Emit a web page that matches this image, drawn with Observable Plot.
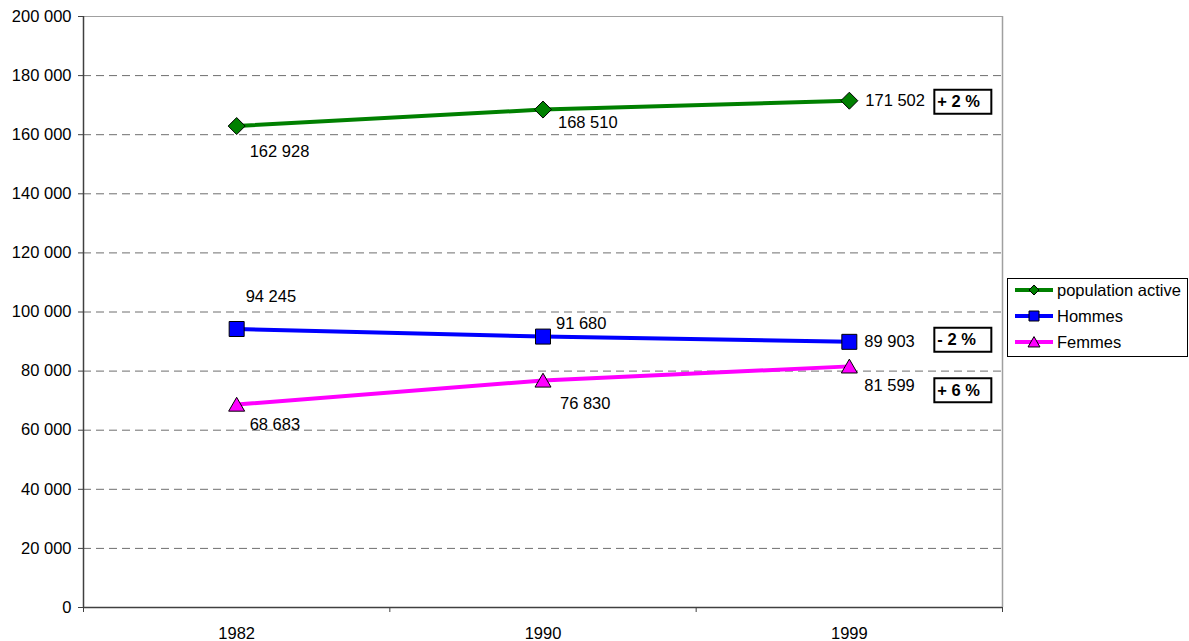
<!DOCTYPE html>
<html><head><meta charset="utf-8">
<script src="https://cdn.jsdelivr.net/npm/d3@7"></script>
<script src="https://cdn.jsdelivr.net/npm/@observablehq/plot@0.6"></script>
<style>body{margin:0;background:#fff;}</style>
</head><body><div id="chart"></div>
<script>
// ---- data ----
const years = ["1982", "1990", "1999"];
const seriesNames = ["population active", "Hommes", "Femmes"];
const populationActive = [162928, 168510, 171502];
const hommes = [94245, 91680, 89903];
const femmes = [68683, 76830, 81599];
const changeLabels = ["+ 2 %", "- 2 %", "+ 6 %"];
const yTicks = [0, 20000, 40000, 60000, 80000, 100000, 120000, 140000, 160000, 180000, 200000];

// ---- styling / layout config ----
const FONT = "'Liberation Sans', Arial, Helvetica, sans-serif";
const FS = 16.5;
const colors = ["#008000", "#0000ff", "#ff00ff"];
const symbols = ["diamond2", "square", "triangle"];
const radii = [7.66, 8.46, 5.94];
const symDy = [0, 0, 2];
// value-label offsets [dx, dy] per series / year
const labelOffsets = [
  [[13, 26], [15, 13], [16, 0]],
  [[9, -32], [13, -13], [15, 0]],
  [[13, 20], [17, 23], [15, 19]]
];
const changeDy = [1, -2, 24];

const fmt = v => d3.format(",")(v).replace(/,/g, " ");
const valuesBySeries = [populationActive, hommes, femmes];
const rows = seriesNames.flatMap((s, si) =>
  years.map((y, i) => ({series: s, si, i, year: y, xi: i + 0.5, value: valuesBySeries[si][i]})));
const gridTicks = yTicks.filter(t => t > 0 && t < 200000);

const boxSymbol = {draw(ctx) { ctx.rect(-28.5, -12, 57, 24); }};

const marks = [
  Plot.ruleY(gridTicks, {stroke: "#6e6e6e", strokeWidth: 1, strokeDasharray: "8,5"}),
  Plot.ruleY([200000], {stroke: "#a0a0a0", strokeWidth: 1}),
  Plot.ruleX([3], {stroke: "#a0a0a0", strokeWidth: 1.5}),
  Plot.axisY({ticks: yTicks, tickFormat: fmt, tickSize: 5, tickPadding: 7, fontSize: FS, stroke: "#404040", label: null}),
  Plot.axisX({ticks: [0, 1, 2, 3], tickSize: 5, tickFormat: () => "", stroke: "#404040", label: null}),
  Plot.axisX({ticks: [0.5, 1.5, 2.5], tickSize: 0, tickPadding: 20, fontSize: FS, tickFormat: d => years[Math.floor(d)], label: null}),
  Plot.ruleX([0], {stroke: "#404040", strokeWidth: 1.5}),
  Plot.ruleY([0], {stroke: "#404040", strokeWidth: 1.5})
];

seriesNames.forEach((s, si) => {
  const data = rows.filter(d => d.si === si);
  marks.push(Plot.line(data, {x: "xi", y: "value", stroke: colors[si], strokeWidth: 4}));
  marks.push(Plot.dot(data, {x: "xi", y: "value", symbol: symbols[si], r: radii[si], fill: colors[si], stroke: "#000", strokeWidth: 1, dy: symDy[si]}));
  data.forEach(d => {
    const [dx, dy] = labelOffsets[si][d.i];
    marks.push(Plot.text([d], {x: "xi", y: "value", text: v => fmt(v.value), dx, dy, textAnchor: "start", fontSize: FS, fill: "#000"}));
  });
  const last = data[data.length - 1];
  marks.push(Plot.dot([last], {x: "xi", y: "value", symbol: boxSymbol, r: 5, fill: "#fff", stroke: "#000", strokeWidth: 2, dx: 113.5, dy: changeDy[si]}));
  marks.push(Plot.text([last], {x: "xi", y: "value", text: () => changeLabels[si], dx: 88, dy: changeDy[si], textAnchor: "start", fontSize: FS, fontWeight: "bold", fill: "#000"}));
});

const chart = Plot.plot({
  width: 1189,
  height: 641,
  marginLeft: 83,
  marginRight: 187,
  marginTop: 16,
  marginBottom: 34,
  x: {domain: [0, 3]},
  y: {domain: [0, 200000]},
  style: {fontFamily: FONT, fontSize: FS + "px", background: "#fff", color: "#000"},
  marks
});
document.getElementById("chart").appendChild(chart);

// ---- legend ----
const svg = d3.select(chart);
const lg = svg.append("g").attr("font-family", FONT).attr("font-size", FS).attr("text-anchor", "start");
lg.append("rect").attr("x", 1007.5).attr("y", 278.5).attr("width", 180).attr("height", 78)
  .attr("fill", "#fff").attr("stroke", "#000").attr("stroke-width", 1);
const legendSyms = [[d3.symbolDiamond2, 64], [d3.symbolSquare, 100], [d3.symbolTriangle, 62]];
seriesNames.forEach((s, i) => {
  const cy = 290 + i * 26;
  lg.append("line").attr("x1", 1015).attr("x2", 1053).attr("y1", cy).attr("y2", cy)
    .attr("stroke", colors[i]).attr("stroke-width", 4);
  lg.append("path").attr("d", d3.symbol(legendSyms[i][0], legendSyms[i][1])())
    .attr("transform", `translate(1034,${cy + (i === 2 ? 1.5 : 0)})`)
    .attr("fill", colors[i]).attr("stroke", "#000").attr("stroke-width", 1);
  lg.append("text").attr("x", 1057).attr("y", cy).attr("dy", "0.35em").attr("text-anchor", "start").attr("fill", "#000").text(s);
});
</script>
</body></html>
